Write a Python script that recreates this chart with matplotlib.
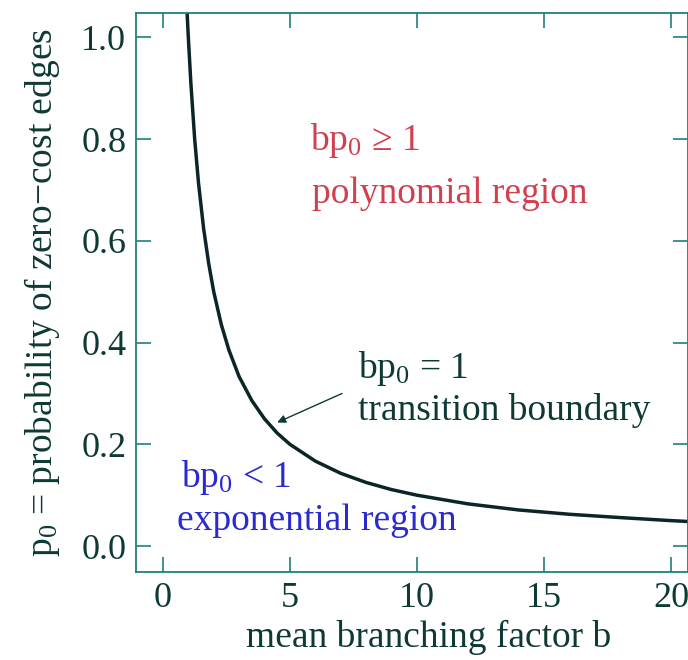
import numpy as np
import matplotlib.pyplot as plt

plt.rcParams['font.family'] = ['Liberation Serif', 'DejaVu Serif']
plt.rcParams['mathtext.default'] = 'regular'

# transition boundary b*p0 = 1
b_vals = [0.95, 1.0, 1.1, 1.25, 1.4, 1.6, 1.8, 2.0, 2.3, 2.6, 3.0, 3.5, 4.0,
          4.5, 5.0, 6.0, 7.0, 8.0, 9.0, 10.0, 12.0, 14.0, 16.0, 18.0, 20.0, 20.8]
p_vals = [1.05, 1.0, 0.91, 0.80, 0.714, 0.625, 0.556, 0.50, 0.435, 0.385, 0.333,
          0.286, 0.25, 0.222, 0.20, 0.167, 0.143, 0.125, 0.111, 0.10, 0.083,
          0.071, 0.0625, 0.056, 0.05, 0.048]

x_ticks = [0, 5, 10, 15, 20]
y_ticks = [0.0, 0.2, 0.4, 0.6, 0.8, 1.0]

axcol = '#1f7f7f'
txtcol = '#0e3a36'

fig = plt.figure(figsize=(6.88, 6.6), dpi=100)
ax = fig.add_axes([136 / 688, 1 - 572 / 660, 1 - 136 / 688, (572 - 13) / 660])

ax.plot(b_vals, p_vals, color='#0a2626', lw=2.5)
ax.set_xlim(-1.06, 20.67)
ax.set_ylim(-0.051, 1.048)

ax.set_xticks(x_ticks)
ax.set_xticklabels([str(v) for v in x_ticks])
ax.set_yticks(y_ticks)
ax.set_yticklabels(['%.1f' % v for v in y_ticks])
ax.tick_params(direction='in', length=11, width=1.2, color=axcol,
               top=True, right=True, labelsize=26, labelcolor=txtcol, pad=7)
for s in ax.spines.values():
    s.set_color(axcol)
    s.set_linewidth(1.3)

ax.set_xlabel('mean branching factor b', fontsize=27, color=txtcol)
ax.xaxis.set_label_coords(0.53, -0.085)
ax.set_ylabel('p$_0$ = probability of zero\u2212cost edges', fontsize=27,
              color=txtcol, labelpad=14)

red = '#d0404e'
blue = '#2a2ad0'
fs = 27
ax.text(5.79, 0.778, 'bp$_0$ \u2265 1', color=red, fontsize=fs, va='baseline')
ax.text(5.85, 0.674, 'polynomial region', color=red, fontsize=fs, va='baseline')
ax.text(7.68, 0.330, 'bp$_0$ = 1', color=txtcol, fontsize=fs, va='baseline')
ax.text(7.68, 0.2475, 'transition boundary', color=txtcol, fontsize=fs, va='baseline')
ax.text(0.72, 0.116, 'bp$_0$ < 1', color=blue, fontsize=fs, va='baseline')
ax.text(0.55, 0.0314, 'exponential region', color=blue, fontsize=fs, va='baseline')
ax.annotate('', xy=(4.5, 0.243), xytext=(7.05, 0.30),
            arrowprops=dict(arrowstyle='-|>', color=txtcol, lw=1.0,
                            mutation_scale=12, shrinkA=0, shrinkB=0))

fig.savefig('out.png', dpi=100)
